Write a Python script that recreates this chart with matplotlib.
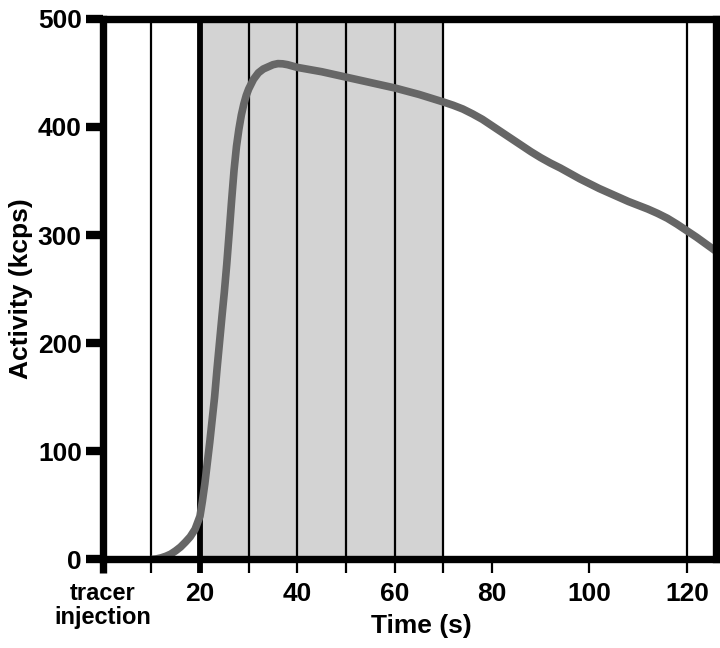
import numpy as np
import matplotlib
matplotlib.use('Agg')
import matplotlib.pyplot as plt

plt.rcParams['font.family'] = ['Liberation Sans', 'DejaVu Sans']
plt.rcParams['font.weight'] = 'bold'

# activity curve
time_s = [10, 11, 12, 13, 14, 15, 16, 17, 18, 19, 20, 20.5, 21, 21.5, 22,
          22.5, 23, 23.5, 24, 24.5, 25, 25.5, 26, 26.5, 27, 27.5, 28, 28.5,
          29, 29.5, 30, 31, 32, 33, 34, 35, 36, 37, 38, 40, 45, 50, 55, 60,
          65, 70, 72, 74, 76, 78, 80, 82, 84, 86, 88, 90, 92, 94, 96, 98,
          100, 102, 104, 106, 108, 110, 112, 114, 116, 118, 120, 122, 124, 126]
activity = [0, 0.5, 1.5, 3, 5, 8, 11.5, 16, 21, 28, 40, 54, 70, 89, 108,
            129, 150, 176, 200, 224, 247, 273, 302, 332, 360, 382, 398, 411,
            421, 429, 435, 444, 450, 453.5, 455.5, 457.5, 458.5, 458.3, 457.5,
            455, 451, 446, 441, 436, 430, 423, 420, 416.5, 412, 407, 401,
            395, 389, 383, 377, 371.5, 366.5, 362, 357, 352, 347.5, 343, 339,
            335, 331, 327.5, 324, 320, 315.5, 310, 304, 298, 291.5, 285]

frame_lines = [10, 20, 30, 40, 50, 60, 70, 120]
shade_span = (20, 70)
x_ticks = [0, 10, 20, 30, 40, 50, 60, 70, 80, 100, 120]
x_labels = ['tracer\ninjection', '', '20', '', '40', '', '60', '', '80', '100', '120']
y_ticks = [0, 100, 200, 300, 400, 500]

fig = plt.figure(figsize=(7.2, 6.48), dpi=100)
ax = fig.add_axes([0.1425, 0.1366, 0.852, 0.8345])

ax.axvspan(*shade_span, color='#d3d3d3', lw=0, zorder=0)
for xv in frame_lines:
    lw = 4.2 if xv == 20 else 1.6
    ax.axvline(xv, color='black', lw=lw, zorder=1)

ax.plot(time_s, activity, color='#666666', lw=5.5, solid_capstyle='butt',
        solid_joinstyle='round', zorder=2)

ax.set_xlim(0, 126)
ax.set_ylim(0, 500)

for side in ['left', 'right', 'top', 'bottom']:
    ax.spines[side].set_linewidth(5.3)
    ax.spines[side].set_zorder(5)

ax.set_xticks(x_ticks)
ax.set_xticklabels(x_labels)
ax.set_yticks(y_ticks)
ax.tick_params(axis='y', direction='out', length=12, width=6, pad=3, labelsize=19)
ax.tick_params(axis='x', direction='out', length=10, width=1.6, pad=6, labelsize=19)

xt = ax.xaxis.get_major_ticks()
xt[0].tick1line.set_markeredgewidth(5.3)
xt[0].label1.set_fontsize(17)
xt[0].label1.set_linespacing(1.05)
xt[2].tick1line.set_markeredgewidth(4.2)

ax.set_xlabel('Time (s)', fontsize=19, fontweight='bold')
ax.xaxis.set_label_coords(0.52, -0.1)
ax.set_ylabel('Activity (kcps)', fontsize=19, fontweight='bold')
ax.yaxis.set_label_coords(-0.113, 0.5)

fig.savefig('out.png', dpi=100)
